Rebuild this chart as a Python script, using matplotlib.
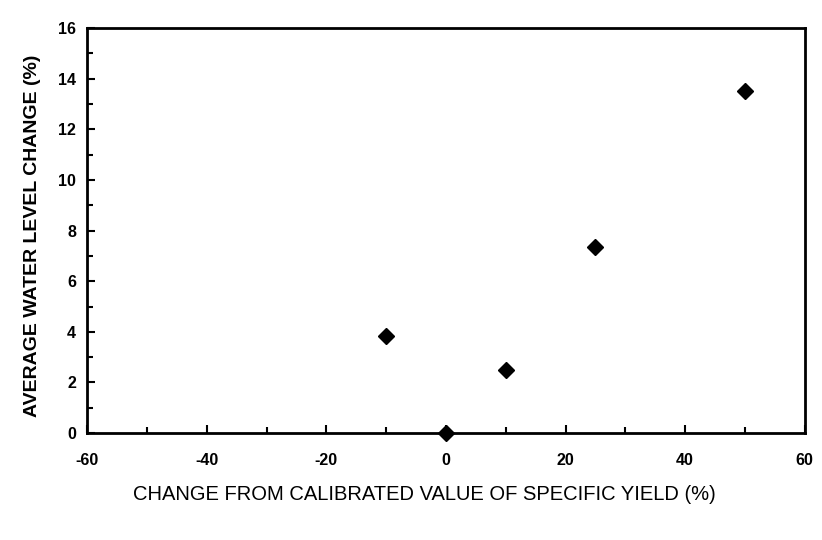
import matplotlib.pyplot as plt
from matplotlib.ticker import MultipleLocator

# Sensitivity of water level to specific yield
yield_change = [-10, 0, 10, 25, 50]
level_change = [3.85, 0.0, 2.5, 7.35, 13.5]

x_ticks = [-60, -40, -20, 0, 20, 40, 60]
y_ticks = [0, 2, 4, 6, 8, 10, 12, 14, 16]

plt.rcParams['font.family'] = ['Liberation Sans', 'DejaVu Sans']
plt.rcParams['axes.unicode_minus'] = False

fig = plt.figure(figsize=(8.22, 5.4), dpi=100)
ax = fig.add_axes([0.106, 0.198, 0.873, 0.750])

ax.plot(yield_change, level_change, linestyle="none", marker="D",
        markersize=8, color="black", clip_on=False, zorder=3)

ax.set_xlim(-60, 60)
ax.set_ylim(0, 16)
ax.set_xticks(x_ticks)
ax.set_yticks(y_ticks)
ax.xaxis.set_minor_locator(MultipleLocator(10))
ax.yaxis.set_minor_locator(MultipleLocator(1))
ax.tick_params(which="both", direction="in", width=1.5, labelsize=11.5)
ax.tick_params(which="major", length=6)
ax.tick_params(which="minor", length=4)
ax.tick_params(axis="x", pad=14)
ax.tick_params(axis="y", pad=8)
for lbl in ax.get_xticklabels() + ax.get_yticklabels():
    lbl.set_fontweight("bold")

for side in ax.spines.values():
    side.set_linewidth(2)

ax.set_xlabel("CHANGE FROM CALIBRATED VALUE OF SPECIFIC YIELD (%)",
              fontsize=14.5)
ax.xaxis.set_label_coords(0.47, -0.128)
ax.set_ylabel("AVERAGE WATER LEVEL CHANGE (%)", fontsize=14,
              fontweight="bold")
ax.yaxis.set_label_coords(-0.064, 0.487)

fig.savefig("out.png", dpi=100, facecolor="white")
